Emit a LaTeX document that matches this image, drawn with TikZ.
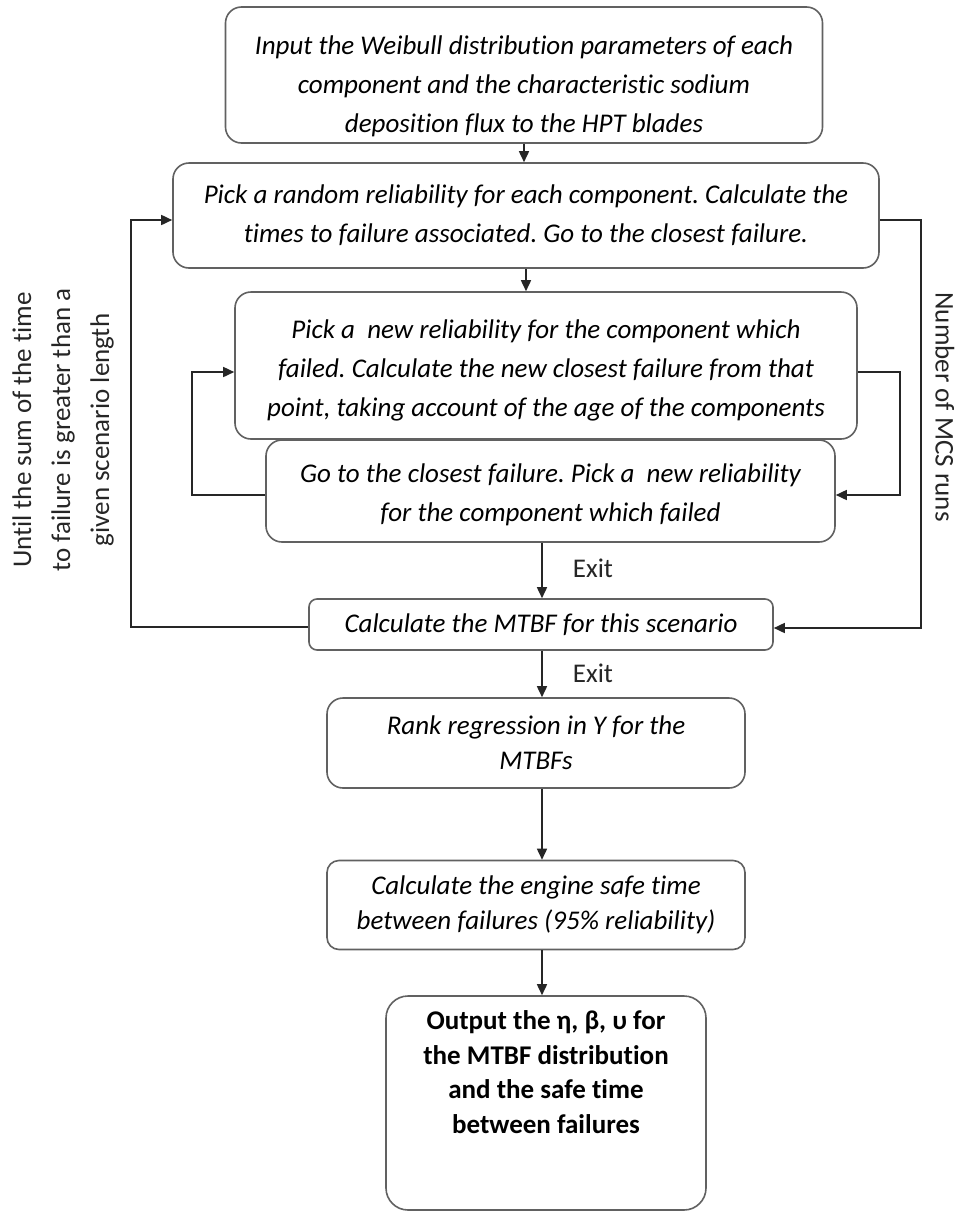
\documentclass[tikz,border=0pt]{standalone}
\usepackage{fontspec}
\setmainfont{Carlito}[Ligatures={NoCommon}]
\usetikzlibrary{arrows.meta,calc}
\frenchspacing
\begin{document}
\begin{tikzpicture}[x=1pt,y=-1pt,
  box/.style={draw=black!62, line width=1.6pt, rounded corners=16pt, fill=white,
    align=center, inner sep=0pt, font=\fontsize{27}{39}\selectfont\itshape},
  boxtext/.style={align=center, inner sep=0pt, font=\fontsize{27}{39}\selectfont\itshape},
  tight/.style={font=\fontsize{27}{35}\selectfont\itshape},
  bold/.style={align=center, inner sep=0pt, font=\fontsize{27}{34.5}\selectfont\bfseries},
  link/.style={draw=black!85, line width=1.6pt},
  arr/.style={link, -{Triangle[length=11pt,width=10pt]}},
  side/.style={font=\fontsize{27}{39}\selectfont, align=center, text=black!85},
  exitlbl/.style={font=\fontsize{27}{30}\selectfont, text=black!85}]
\useasboundingbox (0,0) rectangle (960,1216);
\fill[white] (0,0) rectangle (960,1216);

% process boxes
\node[box, minimum width=597pt, minimum height=136pt] (input) at (524,75) {};
\node[boxtext] (inputtext) at ([yshift=-11pt]input.center)
  {Input the Weibull distribution parameters of each\\
   component and the characteristic sodium\\
   deposition flux to the HPT blades};
\node[box, minimum width=706pt, minimum height=105pt] (pick) at (526,215.5)
  {Pick a random reliability for each component. Calculate the\\
   times to failure associated. Go to the closest failure.};
\node[box, minimum width=622pt, minimum height=147pt] (newrel) at (546,365.5) {};
\node[boxtext] (newreltext) at ([yshift=-5pt]newrel.center)
  {Pick a\ \ new reliability for the component which\\
   failed. Calculate the new closest failure from that\\
   point, taking account of the age of the components};
\node[box, minimum width=569pt, minimum height=102pt] (goto) at (550.5,491) {};
\node[boxtext] (gototext) at ([yshift=-4pt]goto.center)
  {Go to the closest failure. Pick a\ \ new reliability\\
   for the component which failed};
\node[box, rounded corners=8pt, minimum width=464pt, minimum height=51pt] (mtbf) at (541,624.5)
  {Calculate the MTBF for this scenario};
\node[box, tight, minimum width=418pt, minimum height=90pt] (rank) at (536,743)
  {Rank regression in Y for the\\ MTBFs};
\node[box, tight, rounded corners=12pt, minimum width=418pt, minimum height=89pt] (safe) at (536,905)
  {Calculate the engine safe time\\ between failures (95\% reliability)};
\node[box, rounded corners=22pt, minimum width=320pt, minimum height=214pt] (output) at (546,1103) {};
\node[bold] (outtext) at ([yshift=31pt]output.center)
  {Output the η, β, υ for\\ the MTBF distribution\\ and the safe time\\ between failures};

% main flow
\coordinate (spine) at (542,0);
\draw[arr] (input.south) -- (input.south |- pick.north);
\draw[arr] (pick.south) -- (pick.south |- newrel.north);
\draw[arr] (goto.south -| spine) -- (mtbf.north -| spine);
\draw[arr] (mtbf.south -| spine) -- (rank.north -| spine);
\draw[arr] (rank.south -| spine) -- (safe.north -| spine);
\draw[arr] (safe.south -| spine) -- (output.north -| spine);
\node[exitlbl] (exit1) at (593,568) {Exit};
\node[exitlbl] (exit2) at (593,673) {Exit};

% inner loop between the two failure steps
\draw[arr] ([yshift=-4pt]goto.west) -- ++(-73,0) |- ([yshift=-6.5pt]newrel.west);
\draw[arr] ([yshift=-6.5pt]newrel.east) -- ++(42,0) |- ([yshift=-4pt]goto.east);

% outer loops
\draw[arr] ([yshift=-2.5pt]mtbf.west) -- ++(-177,0) |- ([yshift=-4.5pt]pick.west);
\draw[arr] ([yshift=-4.5pt]pick.east) -- ++(41,0) |- ([yshift=-3.5pt]mtbf.east);

% loop conditions
\node[side, rotate=90] (until) at (63,430)
  {Until the sum of the time\\ to failure is greater than a\\ given scenario length};
\node[side, rotate=-90] (runs) at (945,407) {Number of MCS runs};
\end{tikzpicture}
\end{document}
